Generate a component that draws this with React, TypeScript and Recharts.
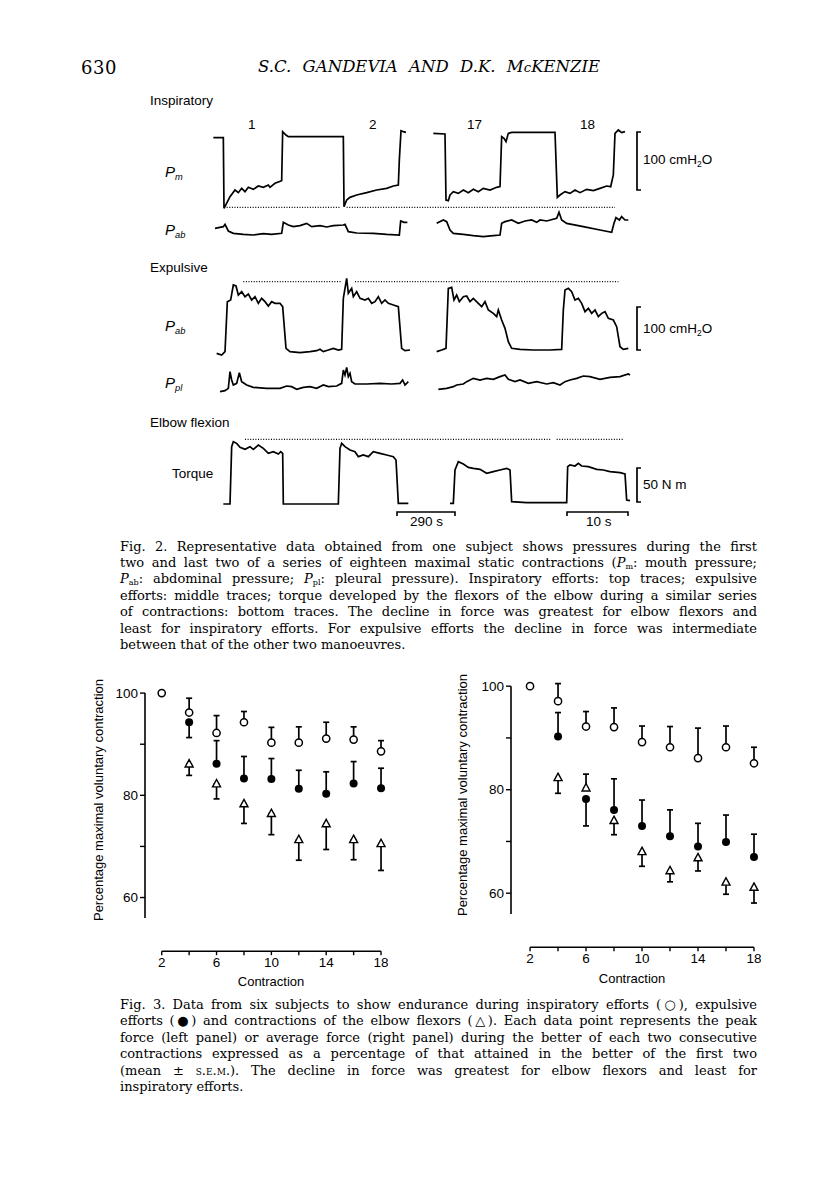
import React from 'react';
import { ScatterChart, Scatter, XAxis, YAxis, ErrorBar, ReferenceLine, LineChart, Line } from 'recharts';

// ---------------- Fig. 3 data ----------------
const contractions = [2, 4, 6, 8, 10, 12, 14, 16, 18];
const laterContractions = [4, 6, 8, 10, 12, 14, 16, 18];
const xTickValues = [2, 4, 6, 8, 10, 12, 14, 16, 18];
const xTickLabels = [2, 6, 10, 14, 18];
const yTickValues = [60, 70, 80, 90, 100];
const yTickLabels = [60, 80, 100];

// Left panel: peak force (% of maximal voluntary contraction). SEM: + drawn above, - drawn below
const peakInspMean = [100, 96.2, 92.2, 94.3, 90.3, 90.3, 91.1, 90.9, 88.6];
const peakInspSem = [0, 2.8, 3.4, 2.1, 3.0, 3.1, 3.2, 2.5, 2.1];
const peakExpMean = [94.3, 86.2, 83.3, 83.2, 81.3, 80.3, 82.3, 81.4];
const peakExpSem = [-3.0, 4.5, 4.3, 4.0, 3.6, 4.3, 4.3, 3.9];
const peakElbowMean = [86.1, 82.2, 78.3, 76.4, 71.3, 74.4, 71.3, 70.5];
const peakElbowSem = [-2.2, -2.9, -3.8, -4.1, -4.0, -5.0, -3.9, -5.2];

// Right panel: average force
const avgInspMean = [100, 97.1, 92.2, 92.1, 89.2, 88.2, 86.1, 88.2, 85.1];
const avgInspSem = [0, 3.4, 2.9, 3.7, 3.1, 4.0, 5.8, 4.1, 3.1];
const avgExpMean = [90.3, 78.2, 76.1, 73.0, 71.0, 69.0, 69.9, 67.0];
const avgExpSem = [4.6, -5.2, 6.0, 5.0, 5.1, 4.5, 5.2, 4.4];
const avgElbowMean = [82.3, 80.3, 74.0, 68.0, 64.3, 66.8, 62.1, 61.1];
const avgElbowSem = [-3.0, 2.7, -2.7, -2.8, -2.1, -2.5, -2.3, -3.0];

// ---------------- Fig. 2 traces (digitised chart-recorder readings: [time div, deflection div]) ----------------
const pmFirstPair = [[40,83],[70,83],[72,295],[90,260],[105,240],[115,248],[125,235],[135,245],[145,232],[160,238],[175,228],[190,232],[205,225],[210,232],[225,220],[245,212],[248,65],[258,75],[265,80],[430,80],[432,290],[440,270],[450,262],[470,255],[500,248],[530,240],[560,235],[580,228],[595,225],[598,150],[603,62],[610,65],[618,67]];
const pmLastPair = [[700,70],[735,72],[738,270],[745,272],[750,255],[760,245],[775,250],[790,240],[805,248],[820,238],[835,245],[850,235],[870,240],[890,232],[900,230],[905,80],[912,85],[918,95],[925,70],[935,67],[1065,67],[1072,262],[1080,255],[1095,245],[1110,250],[1125,240],[1140,248],[1160,238],[1180,242],[1200,235],[1220,228],[1232,230],[1240,195],[1245,70],[1255,60],[1265,68],[1275,65]];
const pmMaxLevel = [[80,420,292],[440,1245,292]];

const pabInspFirstPair = [[45,70],[70,65],[75,58],[85,78],[100,85],[130,88],[160,90],[190,86],[215,88],[245,85],[250,52],[265,60],[280,65],[300,62],[320,55],[335,65],[360,62],[380,66],[400,62],[430,60],[435,58],[445,80],[470,84],[520,85],[560,88],[598,90],[602,48],[612,52],[622,52]];
const pabInspLastPair = [[710,55],[730,45],[740,50],[750,75],[760,85],[790,88],[820,92],[850,95],[880,92],[900,90],[905,55],[915,50],[935,45],[955,55],[975,48],[995,45],[1010,52],[1020,45],[1040,48],[1070,40],[1077,22],[1085,45],[1100,55],[1150,65],[1200,75],[1235,82],[1242,55],[1248,38],[1258,45],[1265,35],[1275,45],[1285,45]];

const pabExpFirstPair = [[50,250],[65,255],[75,245],[82,95],[92,90],[100,45],[108,48],[115,75],[125,65],[135,80],[145,72],[155,90],[165,80],[175,100],[185,85],[195,95],[205,108],[215,95],[225,100],[240,100],[248,110],[258,235],[270,245],[300,248],[330,245],[350,242],[360,238],[370,245],[385,240],[400,235],[415,240],[425,238],[430,85],[440,25],[445,70],[455,55],[460,80],[470,65],[480,85],[495,90],[505,85],[515,100],[525,95],[535,80],[545,100],[555,90],[565,100],[580,105],[595,110],[605,235],[615,242],[630,240]];
const pabExpLastPair = [[710,245],[725,240],[738,235],[745,55],[755,52],[762,90],[770,75],[778,95],[790,80],[800,78],[810,95],[820,85],[835,100],[845,110],[855,95],[865,120],[880,130],[890,140],[895,120],[905,150],[915,175],[925,215],[935,235],[960,238],[1000,240],[1050,240],[1085,238],[1090,120],[1095,60],[1105,55],[1115,65],[1125,90],[1135,85],[1145,100],[1155,125],[1165,115],[1175,130],[1185,120],[1195,140],[1205,130],[1215,125],[1225,145],[1240,150],[1250,170],[1260,230],[1270,238],[1285,235]];
const pabExpMaxLevel = [[130,425,35],[465,1255,35]];

const pplFirstPair = [[60,95],[75,92],[85,85],[90,35],[95,60],[100,75],[110,70],[118,38],[125,65],[140,75],[160,82],[200,85],[240,85],[260,78],[275,80],[290,88],[310,82],[330,80],[350,85],[370,75],[385,80],[410,78],[425,70],[430,30],[435,45],[440,22],[445,50],[450,40],[455,65],[465,72],[500,72],[540,70],[575,72],[600,70],[608,60],[615,75],[625,65]];
const pplLastPair = [[715,88],[740,85],[760,80],[770,75],[790,72],[800,65],[820,55],[840,60],[860,55],[880,58],[900,50],[915,45],[925,58],[945,65],[960,60],[985,70],[1010,65],[1040,72],[1060,68],[1080,75],[1095,65],[1110,60],[1130,55],[1150,48],[1170,50],[1200,58],[1230,52],[1260,50],[1285,42],[1290,45]];

const torqueFirstPair = [[70,432],[90,432],[95,260],[100,245],[110,250],[120,262],[135,268],[150,260],[160,268],[175,255],[190,265],[205,280],[220,275],[235,282],[242,275],[248,280],[250,432],[300,432],[360,432],[415,432],[420,265],[425,250],[435,260],[450,270],[465,275],[475,290],[490,285],[505,290],[520,275],[540,280],[560,285],[580,290],[588,300],[595,430],[625,430]];
const torqueLastPair = [[750,430],[760,430],[765,330],[775,305],[790,312],[805,322],[820,325],[840,328],[860,340],[880,335],[900,330],[920,325],[930,330],[935,425],[980,428],[1040,428],[1100,428],[1103,320],[1110,315],[1125,318],[1135,310],[1145,318],[1165,320],[1190,328],[1210,330],[1230,335],[1260,338],[1275,342],[1280,420],[1290,422]];
const torqueMaxLevel = [[135,1055,238],[1070,1270,238]];

// ---------------- helpers ----------------
const toPoints = (xs: number[], means: number[], sems: number[]) =>
  xs.map((x, i) => ({ x, y: means[i], err: sems[i] >= 0 ? [0, sems[i]] : [-sems[i], 0] }));

const OpenCircle = (p: any) => <circle cx={p.cx} cy={p.cy} r={3.6} fill="#fff" stroke="#000" strokeWidth={1.5} />;
const FilledCircle = (p: any) => <circle cx={p.cx} cy={p.cy} r={4} fill="#000" />;
const OpenTriangle = (p: any) => (
  <path d={`M${p.cx},${p.cy - 4.6} L${p.cx + 4},${p.cy + 2.8} L${p.cx - 4},${p.cy + 2.8} Z`} fill="#fff" stroke="#000" strokeWidth={1.4} />
);

const sans = '"Liberation Sans", Arial, sans-serif';
const serif = '"DejaVu Serif", serif';

type PanelProps = {
  left: number; top: number; width: number; height: number;
  xDomain: [number, number]; yDomain: [number, number];
  insp: any[]; exp: any[]; elbow: any[];
};

const PAD = 12;

function Panel({ left, top, width, height, xDomain, yDomain, insp, exp, elbow }: PanelProps) {
  const eb = { dataKey: 'err', direction: 'y' as const, width: 3, stroke: '#000', strokeWidth: 1.7 };
  return (
    <div style={{ position: 'absolute', left, top: top - PAD }}>
      <ScatterChart width={width} height={height + PAD} margin={{ top: PAD, right: 0, bottom: 0, left: 0 }}>
        <XAxis
          type="number" dataKey="x" domain={xDomain} allowDataOverflow ticks={xTickValues} interval={0}
          axisLine={false} tickLine={{ stroke: '#000', strokeWidth: 1.4 }} tickSize={4} height={40}
          tick={{ fill: '#000', fontSize: 13.5, fontFamily: sans }}
          tickFormatter={(v: number) => (xTickLabels.includes(v) ? String(v) : '')}
        />
        <YAxis
          type="number" dataKey="y" domain={yDomain} allowDataOverflow ticks={yTickValues} interval={0}
          axisLine={false} tickLine={{ stroke: '#000', strokeWidth: 1.4 }} tickSize={5} width={50}
          tick={{ fill: '#000', fontSize: 13.5, fontFamily: sans }}
          tickFormatter={(v: number) => (yTickLabels.includes(v) ? String(v) : '')}
        />
        <ReferenceLine segment={[{ x: xDomain[0], y: 56 }, { x: xDomain[0], y: 100 }]} stroke="#000" strokeWidth={1.6} ifOverflow="visible" />
        <ReferenceLine segment={[{ x: 2, y: yDomain[0] }, { x: 18, y: yDomain[0] }]} stroke="#000" strokeWidth={1.6} ifOverflow="visible" />
        <Scatter data={elbow} shape={OpenTriangle} isAnimationActive={false}>
          <ErrorBar {...eb} />
        </Scatter>
        <Scatter data={exp} shape={FilledCircle} isAnimationActive={false}>
          <ErrorBar {...eb} />
        </Scatter>
        <Scatter data={insp} shape={OpenCircle} isAnimationActive={false}>
          <ErrorBar {...eb} />
        </Scatter>
      </ScatterChart>
    </div>
  );
}

type TraceProps = { top: number; height: number; pairs: number[][][]; maxLevel?: number[][] };

function Trace({ top, height, pairs, maxLevel }: TraceProps) {
  const data: { x: number; y: number | null }[] = [];
  pairs.forEach((seg, i) => {
    if (i > 0) {
      const prev = pairs[i - 1];
      data.push({ x: (prev[prev.length - 1][0] + seg[0][0]) / 2, y: null });
    }
    seg.forEach(([x, y]) => data.push({ x, y }));
  });
  return (
    <div style={{ position: 'absolute', left: 200, top }}>
      <LineChart width={440} height={height} data={data} margin={{ top: 0, right: 0, bottom: 0, left: 0 }}>
        <XAxis type="number" dataKey="x" domain={[0, 1320]} hide allowDataOverflow />
        <YAxis type="number" domain={[0, height * 3]} reversed hide allowDataOverflow />
        {(maxLevel || []).map(([x1, x2, y], i) => (
          <ReferenceLine key={i} segment={[{ x: x1, y }, { x: x2, y }]} stroke="#000" strokeWidth={1.1} strokeDasharray="1 1.6" ifOverflow="visible" />
        ))}
        <Line type="linear" dataKey="y" stroke="#000" strokeWidth={1.7} dot={false} isAnimationActive={false} connectNulls={false} />
      </LineChart>
    </div>
  );
}

const abs = (left: number, top: number, extra: React.CSSProperties = {}): React.CSSProperties => ({
  position: 'absolute', left, top, whiteSpace: 'nowrap', lineHeight: 1, ...extra,
});

const Sub = ({ children }: { children: React.ReactNode }) => (
  <span style={{ fontSize: '0.62em', verticalAlign: '-0.3em' }}>{children}</span>
);
const PLabel = ({ sub }: { sub: string }) => (
  <span style={{ fontFamily: sans, fontStyle: 'italic', fontSize: 15 }}>P<Sub>{sub}</Sub></span>
);

function Bracket({ x, y1, y2 }: { x: number; y1: number; y2: number }) {
  return (
    <svg style={{ position: 'absolute', left: x - 2, top: y1 - 2 }} width={8} height={y2 - y1 + 4}>
      <path d={`M6,2 L2,2 L2,${y2 - y1 + 2} L6,${y2 - y1 + 2}`} fill="none" stroke="#000" strokeWidth={1.7} />
    </svg>
  );
}
function TimeBar({ x1, x2, y }: { x1: number; x2: number; y: number }) {
  return (
    <svg style={{ position: 'absolute', left: x1 - 1, top: y - 1 }} width={x2 - x1 + 2} height={6}>
      <path d={`M1,5 L1,1 L${x2 - x1 + 1},1 L${x2 - x1 + 1},5`} fill="none" stroke="#000" strokeWidth={1.6} />
    </svg>
  );
}

const fig2Caption: React.ReactNode[] = [
  <>Fig. 2. Representative data obtained from one subject shows pressures during the first</>,
  <>two and last two of a series of eighteen maximal static contractions (<i>P</i><Sub>m</Sub>: mouth pressure;</>,
  <><i>P</i><Sub>ab</Sub>: abdominal pressure; <i>P</i><Sub>pl</Sub>: pleural pressure). Inspiratory efforts: top traces; expulsive</>,
  <>efforts: middle traces; torque developed by the flexors of the elbow during a similar series</>,
  <>of contractions: bottom traces. The decline in force was greatest for elbow flexors and</>,
  <>least for inspiratory efforts. For expulsive efforts the decline in force was intermediate</>,
  <>between that of the other two manoeuvres.</>,
];
const fig3Caption: React.ReactNode[] = [
  <>Fig. 3. Data from six subjects to show endurance during inspiratory efforts (○), expulsive</>,
  <>efforts (●) and contractions of the elbow flexors (△). Each data point represents the peak</>,
  <>force (left panel) or average force (right panel) during the better of each two consecutive</>,
  <>contractions expressed as a percentage of that attained in the better of the first two</>,
  <>(mean ± <span style={{ fontVariant: 'small-caps' }}>s.e.m.</span>). The decline in force was greatest for elbow flexors and least for</>,
  <>inspiratory efforts.</>,
];

function Caption({ lines, firstY }: { lines: React.ReactNode[]; firstY: number }) {
  return (
    <>
      {lines.map((l, i) => (
        <div
          key={i}
          style={{
            position: 'absolute', left: 120, top: firstY + i * 16.4 - 8, width: 637, height: 16,
            lineHeight: '16px', fontFamily: serif, fontSize: 13, color: '#000',
            textAlign: 'justify', textAlignLast: i === lines.length - 1 ? 'left' : 'justify',
          } as React.CSSProperties}
        >
          {l}
        </div>
      ))}
    </>
  );
}

export default function App() {
  const leftInsp = toPoints(contractions, peakInspMean, peakInspSem);
  const leftExp = toPoints(laterContractions, peakExpMean, peakExpSem);
  const leftElbow = toPoints(laterContractions, peakElbowMean, peakElbowSem);
  const rightInsp = toPoints(contractions, avgInspMean, avgInspSem);
  const rightExp = toPoints(laterContractions, avgExpMean, avgExpSem);
  const rightElbow = toPoints(laterContractions, avgElbowMean, avgElbowSem);

  const figLabel: React.CSSProperties = { fontFamily: sans, fontSize: 13.5, color: '#000' };

  return (
    <div style={{ position: 'absolute', left: 0, top: 0, width: 816, height: 1203, background: '#fff', overflow: 'hidden', color: '#000' }}>
      {/* running head */}
      <div style={abs(81, 59, { fontFamily: serif, fontSize: 18, letterSpacing: 0.5 })}>630</div>
      <div style={abs(258, 59, { fontFamily: serif, fontSize: 16.5, fontStyle: 'italic', width: 342, textAlign: 'justify', textAlignLast: 'justify' } as React.CSSProperties)}>
        S.C. GANDEVIA AND D.K. M<span style={{ fontSize: '0.8em' }}>c</span>KENZIE
      </div>

      {/* Fig. 2 */}
      <div style={abs(150, 94, figLabel)}>Inspiratory</div>
      <div style={abs(248, 118, figLabel)}>1</div>
      <div style={abs(369, 118, figLabel)}>2</div>
      <div style={abs(467, 118, figLabel)}>17</div>
      <div style={abs(580, 118, figLabel)}>18</div>
      <div style={abs(165, 164)}><PLabel sub="m" /></div>
      <div style={abs(165, 222)}><PLabel sub="ab" /></div>
      <Trace top={110} height={100} pairs={[pmFirstPair, pmLastPair]} maxLevel={pmMaxLevel} />
      <Trace top={205} height={50} pairs={[pabInspFirstPair, pabInspLastPair]} />
      <Bracket x={637} y1={132} y2={190} />
      <div style={abs(643, 153, figLabel)}>100 cmH<Sub>2</Sub>O</div>

      <div style={abs(150, 261, figLabel)}>Expulsive</div>
      <div style={abs(165, 318)}><PLabel sub="ab" /></div>
      <div style={abs(165, 375)}><PLabel sub="pl" /></div>
      <Trace top={270} height={95} pairs={[pabExpFirstPair, pabExpLastPair]} maxLevel={pabExpMaxLevel} />
      <Trace top={360} height={170} pairs={[pplFirstPair, pplLastPair]} />
      <Bracket x={637} y1={307} y2={350} />
      <div style={abs(643, 322, figLabel)}>100 cmH<Sub>2</Sub>O</div>

      <div style={abs(150, 416, figLabel)}>Elbow flexion</div>
      <div style={abs(172, 467, figLabel)}>Torque</div>
      <Trace top={360} height={170} pairs={[torqueFirstPair, torqueLastPair]} maxLevel={torqueMaxLevel} />
      <Bracket x={637} y1={468} y2={502} />
      <div style={abs(643, 478, figLabel)}>50 N m</div>
      <TimeBar x1={397} x2={455} y={512} />
      <div style={abs(410, 515, figLabel)}>290 s</div>
      <TimeBar x1={567} x2={628} y={512} />
      <div style={abs(586, 515, figLabel)}>10 s</div>

      <Caption lines={fig2Caption} firstY={546.5} />

      {/* Fig. 3 */}
      <Panel left={95} top={688.2} width={292.9} height={303.2} xDomain={[0.78, 18.5]} yDomain={[49.5, 101]}
        insp={leftInsp} exp={leftExp} elbow={leftElbow} />
      <Panel left={461} top={680.5} width={300} height={306.2} xDomain={[0.64, 18.5]} yDomain={[49.57, 101]}
        insp={rightInsp} exp={rightExp} elbow={rightElbow} />

      <div style={{ position: 'absolute', left: 98, top: 800, transform: 'translate(-50%, -50%) rotate(-90deg)', whiteSpace: 'nowrap', fontFamily: sans, fontSize: 13, lineHeight: 1 }}>
        Percentage maximal voluntary contraction
      </div>
      <div style={{ position: 'absolute', left: 462, top: 795, transform: 'translate(-50%, -50%) rotate(-90deg)', whiteSpace: 'nowrap', fontFamily: sans, fontSize: 13, lineHeight: 1 }}>
        Percentage maximal voluntary contraction
      </div>
      <div style={{ position: 'absolute', left: 271, top: 981, transform: 'translate(-50%, -50%)', fontFamily: sans, fontSize: 13, lineHeight: 1 }}>Contraction</div>
      <div style={{ position: 'absolute', left: 632, top: 978, transform: 'translate(-50%, -50%)', fontFamily: sans, fontSize: 13, lineHeight: 1 }}>Contraction</div>

      <Caption lines={fig3Caption} firstY={1005} />
    </div>
  );
}
